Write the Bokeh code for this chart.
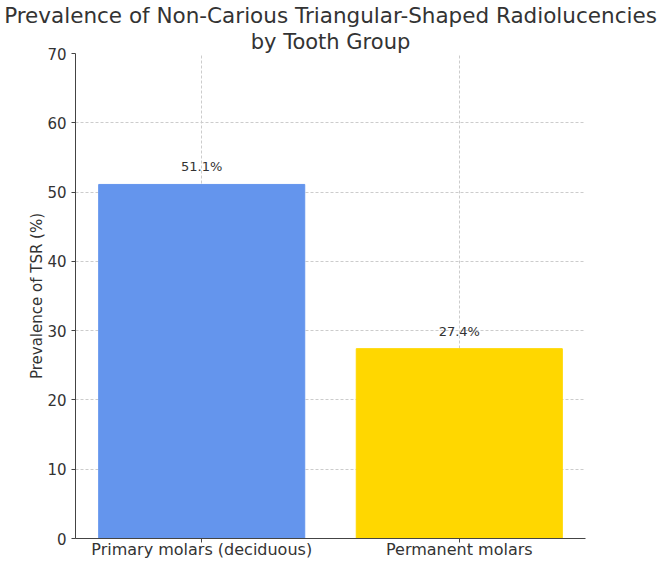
from bokeh.plotting import figure
from bokeh.models import ColumnDataSource, LabelSet, Title, FixedTicker, Range1d
from bokeh.core.properties import value
from bokeh.embed import file_html
from bokeh.resources import INLINE

categories = ["Primary molars (deciduous)", "Permanent molars"]
values = [51.1, 27.4]
colors = ["#6495ED", "#FFD700"]
labels = ["51.1%", "27.4%"]
yticks = [0, 10, 20, 30, 40, 50, 60, 70]
title_lines = ["Prevalence of Non-Carious Triangular-Shaped Radiolucencies", "by Tooth Group"]

xs = list(range(len(categories)))
src = ColumnDataSource(dict(x=xs, top=values, color=colors, label=labels))

FONT = "DejaVu Sans"
TXT = "#333333"

p = figure(width=662, height=561, output_backend="svg", toolbar_location=None,
           x_range=Range1d(-0.49, 1.49), y_range=Range1d(0, 70),
           min_border_left=75, min_border_right=77, min_border_bottom=10, min_border_top=0)
p.title.visible = False
p.add_layout(Title(text=title_lines[1], align="center", text_font=FONT, text_font_size="21px",
                   text_font_style="normal", text_color=TXT, standoff=0, offset=0), "above")
p.add_layout(Title(text=title_lines[0], align="center", text_font=FONT, text_font_size="21.5px",
                   text_font_style="normal", text_color=TXT, standoff=0), "above")

p.vbar(x="x", top="top", width=0.8, bottom=0, color="color", source=src)
p.add_layout(LabelSet(x="x", y="top", text="label", source=src, text_align="center",
                      text_baseline="bottom", y_offset=10, text_font=value(FONT),
                      text_font_size="13px", text_color=TXT))

p.outline_line_color = None
p.xaxis.ticker = FixedTicker(ticks=xs)
p.xaxis.major_label_overrides = {i: c for i, c in enumerate(categories)}
p.yaxis.ticker = FixedTicker(ticks=yticks)
for ax in (p.xaxis, p.yaxis):
    ax.axis_line_color = "#444444"
    ax.major_tick_line_color = "#444444"
    ax.major_tick_out = 4
    ax.major_tick_in = 0
    ax.minor_tick_line_color = None
    ax.major_label_text_font = FONT
    ax.major_label_text_color = TXT
p.xaxis.major_label_text_font_size = "16px"
p.xaxis.major_label_standoff = -3
p.xaxis.major_label_text_line_height = 1.0
p.yaxis.major_label_text_font_size = "15px"
p.yaxis.major_label_standoff = 5
p.yaxis.axis_label = "Prevalence of TSR (%)"
p.yaxis.axis_label_text_font = FONT
p.yaxis.axis_label_text_font_size = "15px"
p.yaxis.axis_label_text_font_style = "normal"
p.yaxis.axis_label_text_color = TXT
p.yaxis.axis_label_standoff = -2

for g in (p.xgrid, p.ygrid):
    g.grid_line_color = "#cccccc"
    g.grid_line_dash = "3 2"
    g.grid_line_width = 1
p.xgrid.ticker = FixedTicker(ticks=xs)

open("out.html", "w").write(file_html(p, INLINE))
